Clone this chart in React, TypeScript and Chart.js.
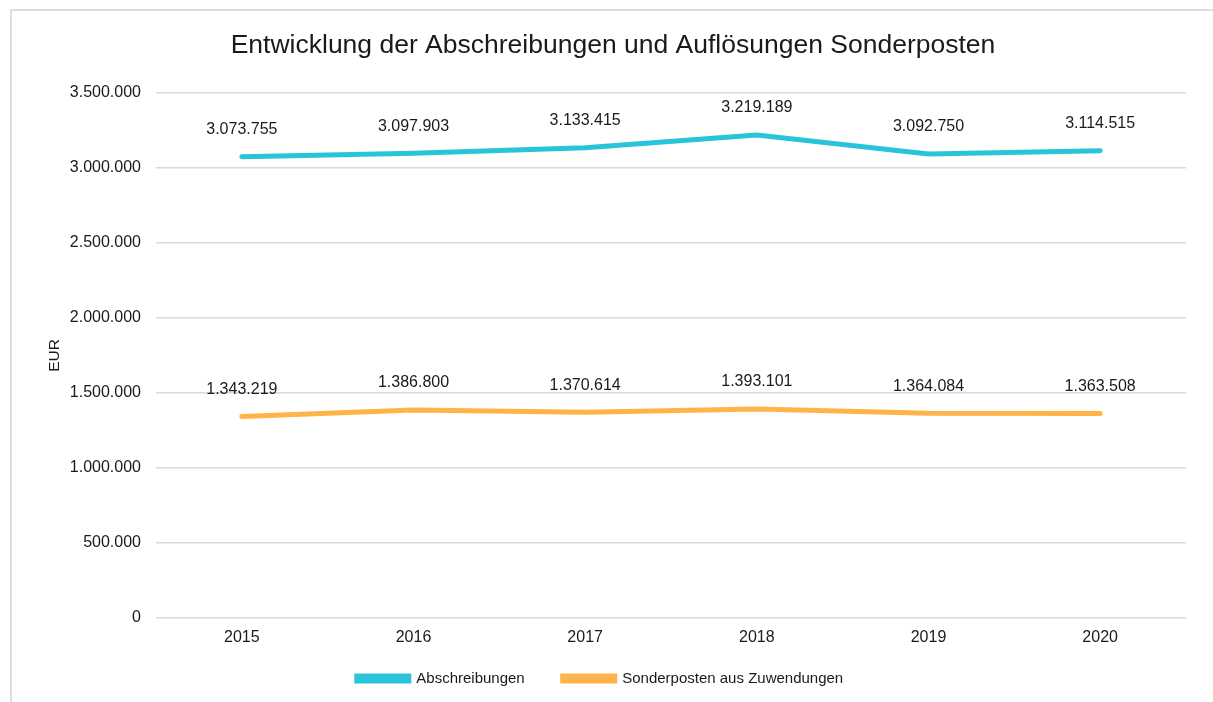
import React, { useEffect, useRef } from "react";
import { Chart, registerables } from "chart.js";

Chart.register(...registerables);

const years = ["2015", "2016", "2017", "2018", "2019", "2020"];
const abschreibungen = [3073755, 3097903, 3133415, 3219189, 3092750, 3114515];
const sonderposten = [1343219, 1386800, 1370614, 1393101, 1364084, 1363508];
const seriesNames = ["Abschreibungen", "Sonderposten aus Zuwendungen"];
const chartTitle = "Entwicklung der Abschreibungen und Auflösungen Sonderposten";
const yAxisTitle = "EUR";

const FONT = "'Liberation Sans', Arial, Helvetica, sans-serif";
const fmt = (v: number) => new Intl.NumberFormat("de-DE").format(v);

const dataLabelPlugin = {
  id: "dataLabels",
  afterDatasetsDraw(chart: any) {
    const ctx = chart.ctx;
    ctx.save();
    ctx.font = `16px ${FONT}`;
    ctx.fillStyle = "#1a1a1a";
    ctx.textAlign = "center";
    ctx.textBaseline = "middle";
    chart.data.datasets.forEach((ds: any, di: number) => {
      const meta = chart.getDatasetMeta(di);
      meta.data.forEach((pt: any, i: number) => {
        ctx.fillText(fmt(ds.data[i]), pt.x, pt.y - 27);
      });
    });
    ctx.restore();
  },
};

const layoutTweakPlugin = {
  id: "layoutTweak",
  afterLayout(chart: any) {
    if (chart.legend) {
      chart.legend.left -= 13;
      chart.legend.right -= 13;
    }
    const x = chart.scales.x;
    if (x) {
      x.bottom = x.top + 40;
    }
  },
};

export default function App() {
  const ref = useRef<HTMLCanvasElement | null>(null);

  useEffect(() => {
    if (!ref.current) return;
    const chart = new Chart(ref.current, {
      type: "line",
      data: {
        labels: years,
        datasets: [
          {
            label: seriesNames[0],
            data: abschreibungen,
            borderColor: "#29C4DA",
            backgroundColor: "#29C4DA",
            borderWidth: 5,
            pointRadius: 0,
            borderCapStyle: "round",
            tension: 0,
          },
          {
            label: seriesNames[1],
            data: sonderposten,
            borderColor: "#FFB449",
            backgroundColor: "#FFB449",
            borderWidth: 5,
            pointRadius: 0,
            borderCapStyle: "round",
            tension: 0,
          },
        ],
      },
      options: {
        responsive: false,
        animation: false,
        layout: { padding: { left: 40, right: 27, top: 30, bottom: 6 } },
        plugins: {
          title: {
            display: true,
            text: chartTitle,
            color: "#1a1a1a",
            font: { family: FONT, size: 26.5, weight: "normal" },
            padding: { top: 0, bottom: 31 },
          },
          legend: {
            position: "bottom",
            labels: {
              boxWidth: 52,
              boxHeight: 5,
              padding: 38,
              color: "#1a1a1a",
              font: { family: FONT, size: 15 },
            },
          },
          tooltip: { enabled: false },
        },
        scales: {
          x: {
            offset: true,
            grid: { display: false, drawTicks: false },
            border: { display: false },
            ticks: {
              color: "#1a1a1a",
              font: { family: FONT, size: 16 },
              padding: 9.5,
            },
            afterFit: (scale: any) => {
              scale.height = 15;
            },
          },
          y: {
            min: 0,
            max: 3500000,
            grid: { color: "#D9D9D9", lineWidth: 1.5, drawTicks: false },
            border: { display: false },
            ticks: {
              stepSize: 500000,
              color: "#1a1a1a",
              font: { family: FONT, size: 16 },
              padding: 15,
              callback: (v: any) => fmt(Number(v)),
            },
            title: {
              display: true,
              text: yAxisTitle,
              color: "#1a1a1a",
              font: { family: FONT, size: 15.5 },
              padding: { top: 5.7, bottom: 0 },
            },
            afterFit: (scale: any) => {
              scale.width = 116;
            },
          },
        },
      },
      plugins: [dataLabelPlugin, layoutTweakPlugin],
    } as any);
    return () => chart.destroy();
  }, []);

  return (
    <div style={{ position: "fixed", left: 0, top: 0, width: 1213, height: 702, background: "#fff", overflow: "hidden" }}>
      <div
        style={{
          position: "absolute",
          left: 10,
          top: 9,
          width: 1300,
          height: 800,
          borderLeft: "2px solid #DDDDDD",
          borderTop: "2px solid #DDDDDD",
        }}
      />
      <canvas ref={ref} width={1213} height={702} style={{ position: "absolute", left: 0, top: 0 }} />
    </div>
  );
}
